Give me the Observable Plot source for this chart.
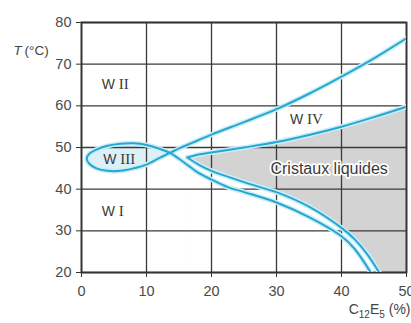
<!DOCTYPE html>
<html>
<head>
<meta charset="utf-8">
<script src="https://cdn.jsdelivr.net/npm/d3@7"></script>
<script src="https://cdn.jsdelivr.net/npm/@observablehq/plot@0.6"></script>
<style>
  html, body { margin: 0; padding: 0; background: #fff; }
  #chart svg { display: block; }
</style>
</head>
<body>
<div id="chart"></div>
<script>
// Tick values
const xTicks = [0, 10, 20, 30, 40, 50];
const yTicks = [20, 30, 40, 50, 60, 70, 80];

// Curve 1: W II / W IV boundary -> W III loop -> lower outer boundary
const lineAX = [50, 45, 40, 35, 30, 25, 20, 17, 15.2, 13.6];
const lineAT = [76.2, 71.4, 67, 62.9, 59.2, 56.1, 53.1, 51.1, 49.9, 48.7];
const loopBottomX = [12, 10, 8, 6, 4, 2.3, 1.2, 0.8];
const loopBottomT = [47.5, 45.9, 45.0, 44.4, 44.4, 45.0, 46.1, 47.3];
const loopTopX = [1.2, 2.3, 4, 6, 8, 10, 12, 13.6];
const loopTopT = [48.5, 49.5, 50.4, 50.9, 51.0, 50.6, 49.7, 48.7];
const outerX = [15, 16.5, 18, 20, 22.5, 25, 30, 35, 40, 42, 44.5];
const outerT = [47.3, 45.6, 43.9, 42.3, 40.5, 39.3, 36.8, 33.3, 28.7, 25.7, 20];

// Liquid crystal region: upper (W IV) boundary and lower boundary
const cX = [16.3, 18, 20, 25, 30, 35, 40, 45, 50];
const cT = [47.6, 48.3, 48.8, 50, 51.3, 53, 55, 57.3, 59.8];
const innerX = [16.3, 18, 20, 22.5, 25, 28.5, 30, 35, 40, 42, 44, 45.8];
const innerT = [47.6, 45.9, 44.4, 43.0, 41.7, 40.0, 39.3, 35.8, 30.7, 28.0, 24.3, 20];

// Region labels
const regionNames = ["W II", "W III", "W I", "W IV"];
const regionX = [5.2, 5.8, 4.8, 34.6];
const regionT = [65, 47.2, 34.6, 56.7];
const lcName = ["Cristaux liquides"];
const lcX = [38.1];
const lcT = [44.8];

const pts = (xs, ts) => xs.map((x, i) => ({x, T: ts[i]}));
const curve1 = [
  ...pts(lineAX, lineAT),
  ...pts(loopBottomX, loopBottomT),
  ...pts(loopTopX, loopTopT),
  ...pts(outerX, outerT)
];
const loop = [
  ...pts(lineAX.slice(-1), lineAT.slice(-1)),
  ...pts(loopBottomX, loopBottomT),
  ...pts(loopTopX, loopTopT)
];
const cLine = pts(cX, cT);
const innerLine = pts(innerX, innerT);
const regions = regionNames.map((n, i) => ({n, x: regionX[i], T: regionT[i]}));
const lcLabel = lcName.map((n, i) => ({n, x: lcX[i], T: lcT[i]}));

const cyan = "#27a7cf";
const halo = "#c9eef8";
const grid = "#3a3a3a";

const chart = Plot.plot({
  width: 411,
  height: 323,
  marginLeft: 81,
  marginRight: 5,
  marginTop: 22,
  marginBottom: 51,
  style: {fontFamily: "'Liberation Sans', Arial, sans-serif", fontSize: "14px", color: "#444", background: "#fff"},
  x: {domain: [0, 50]},
  y: {domain: [20, 80]},
  marks: [
    Plot.areaY(cLine, {x: "x", y: "T", fill: "#d3d3d3", curve: "catmull-rom", clip: true}),
    Plot.areaY(innerLine, {x: "x", y: "T", fill: "#fff", curve: "catmull-rom", clip: true}),
    Plot.line(loop, {x: "x", y: "T", fill: "#dcf0f7", stroke: "none", curve: "catmull-rom"}),
    Plot.gridX(xTicks, {stroke: grid, strokeOpacity: 1, strokeWidth: 1.3}),
    Plot.gridY(yTicks, {stroke: grid, strokeOpacity: 1, strokeWidth: 1.3}),
    Plot.frame({stroke: "#333", strokeWidth: 1.8}),
    Plot.axisX({ticks: xTicks, tickSize: 5, tickPadding: 8, label: null, stroke: "#333", fill: "#4a4a4a", fontSize: 14.5}),
    Plot.axisY({ticks: yTicks, tickSize: 5, tickPadding: 5, label: null, stroke: "#333", fill: "#4a4a4a", fontSize: 14.5}),
    // halos
    Plot.line(curve1, {x: "x", y: "T", stroke: halo, strokeWidth: 5, curve: "catmull-rom", clip: true}),
    Plot.line(cLine, {x: "x", y: "T", stroke: halo, strokeWidth: 5, curve: "catmull-rom", clip: true}),
    Plot.line(innerLine, {x: "x", y: "T", stroke: halo, strokeWidth: 5, curve: "catmull-rom", clip: true}),
    // lines
    Plot.line(curve1, {x: "x", y: "T", stroke: cyan, strokeWidth: 2, curve: "catmull-rom", clip: true}),
    Plot.line(cLine, {x: "x", y: "T", stroke: cyan, strokeWidth: 2, curve: "catmull-rom", clip: true}),
    Plot.line(innerLine, {x: "x", y: "T", stroke: cyan, strokeWidth: 2, curve: "catmull-rom", clip: true}),
    // labels
    Plot.text(regions, {x: "x", y: "T", text: "n", fontSize: 14, fill: "#3a3a3a"}),
    Plot.text(lcLabel, {x: "x", y: "T", text: "n", fontSize: 16, fill: "#3a3a3a", stroke: "#fff", strokeWidth: 3.5}),
    Plot.text(["T"], {frameAnchor: "top-left", dx: -68, dy: 23, textAnchor: "start", fontStyle: "italic", fontSize: 13.5, fill: "#444"}),
    Plot.text(["(°C)"], {frameAnchor: "top-left", dx: -57, dy: 23, textAnchor: "start", fontSize: 13.5, fill: "#444"}),
    Plot.text(["C12E5 (%)"], {frameAnchor: "bottom-right", dx: 4, dy: 41, textAnchor: "end", fontSize: 14, fill: "#444"})
  ]
});

// Typographic refinements: subscripts and serif roman numerals
chart.querySelectorAll("text").forEach(t => {
  const s = t.textContent;
  if (s === "C12E5 (%)") {
    t.innerHTML = 'C<tspan dy="4" font-size="10">12</tspan><tspan dy="-4">E</tspan><tspan dy="4" font-size="10">5</tspan><tspan dy="-4"> (%)</tspan>';
  } else if (/^W [IV]+$/.test(s)) {
    t.innerHTML = 'W <tspan font-family="Liberation Serif, serif" font-size="15">' + s.slice(2) + '</tspan>';
  }
});

document.getElementById("chart").append(chart);
</script>
</body>
</html>
